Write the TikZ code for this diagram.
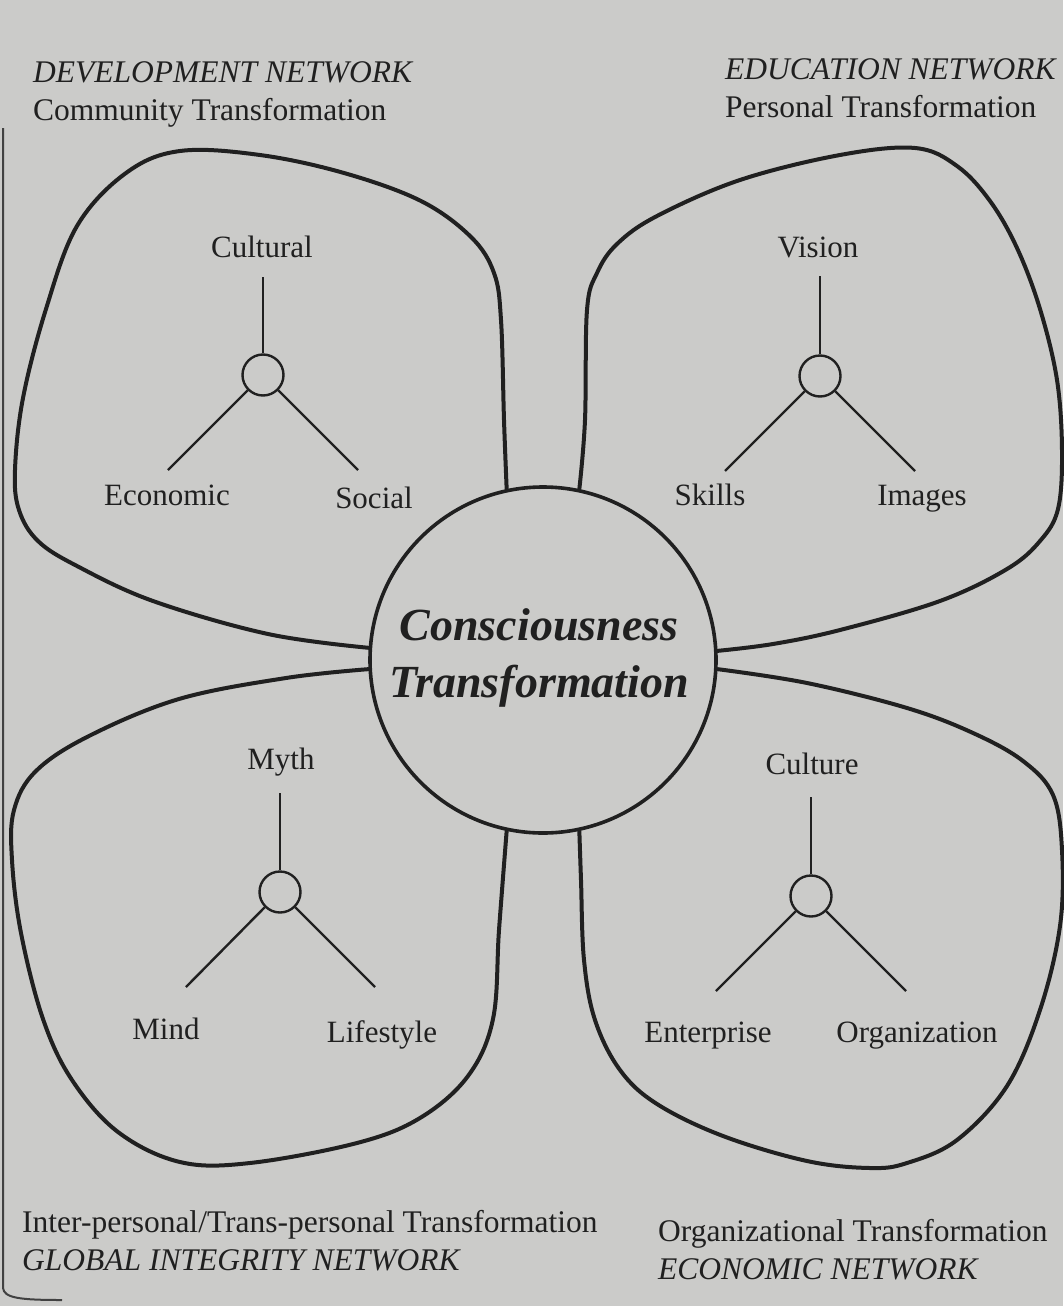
\documentclass[tikz,border=0pt]{standalone}
\usepackage{fontspec}
\setmainfont{Liberation Serif}
\definecolor{paper}{RGB}{203,203,201}
\definecolor{ink}{RGB}{32,32,32}
\tikzset{
  petal/.style={draw=ink, line width=4pt, line join=round, line cap=round},
  corering/.style={circle, draw=ink, line width=3.6pt, minimum size=346pt, inner sep=0pt},
  hub/.style={circle, draw=ink, line width=2.4pt, minimum size=41pt, inner sep=0pt},
  spoke/.style={draw=ink, line width=2.4pt},
  lbl/.style={font=\fontsize{31}{37}\selectfont, text=ink, inner sep=0pt, anchor=base},
  head/.style={font=\fontsize{31.5}{38}\selectfont, text=ink, inner sep=0pt, anchor=base west},
  headit/.style={head, font=\fontsize{31.5}{38}\selectfont\itshape},
  coretext/.style={font=\fontsize{46}{55}\selectfont\bfseries\itshape, text=ink, inner sep=0pt, anchor=base},
  scanedge/.style={draw=ink!85, line width=2pt}
}
\begin{document}
\begin{tikzpicture}[x=1pt,y=-1pt]
\useasboundingbox (0,0) rectangle (1063,1306);
\fill[paper] (0,0) rectangle (1063,1306);
\draw[scanedge] (3,128) -- (3,1288) .. controls (4,1298) and (20,1300) .. (62,1300);

% centre
\node[corering] (core) at (543,660) {};
\node[coretext] (ct1) at (539,640) {Consciousness};
\node[coretext] (ct2) at (539,697) {Transformation};

% petals
\draw[petal] plot[smooth, tension=0.6] coordinates {(core.176) (268,634) (153,601) (77,566) (38,541) (19,510) (15,470) (23,398) (46,309) (77,226) (126,173) (180,151) (260,155) (344,173) (421,201) (471,237) (494,273) (501,320) (504,420) (core.102)};
\draw[petal] plot[smooth, tension=0.6] coordinates {(core.78) (585,420) (587,310) (597,273) (617,244) (657,216) (740,180) (840,155) (915,148) (957,166) (990,201) (1017,248) (1040,309) (1057,380) (1062,451) (1058,509) (1040,541) (1007,569) (940,601) (840,630) (773,644) (core.3)};
\draw[petal] plot[smooth, tension=0.6] coordinates {(core.183) (286,678) (179,699) (89,736) (36,771) (14,810) (12,860) (21,933) (43,1019) (72,1080) (118,1132) (180,1162) (250,1163) (357,1143) (420,1118) (468,1076) (493,1019) (499,930) (core.258)};
\draw[petal] plot[smooth, tension=0.6] coordinates {(core.-3) (807,683) (907,708) (973,733) (1023,761) (1053,795) (1062,850) (1060,926) (1040,1010) (1007,1086) (957,1140) (907,1163) (870,1168) (807,1161) (723,1136) (657,1104) (620,1070) (595,1020) (584,960) (581,880) (core.282)};

% tripod: development
\node[hub] (h1) at (263,375) {};
\coordinate (t1) at (263,277);
\coordinate (l1) at (168,470);
\coordinate (r1) at (358,470);
\draw[spoke] (h1.north) -- (t1);
\draw[spoke] (h1.225) -- (l1);
\draw[spoke] (h1.315) -- (r1);
\node[lbl] (cultural) at (262,257) {Cultural};
\node[lbl] (economic) at (167,505) {Economic};
\node[lbl] (social) at (374,508) {Social};

% tripod: education
\node[hub] (h2) at (820,376) {};
\coordinate (t2) at (820,276);
\coordinate (l2) at (725,471);
\coordinate (r2) at (915,471);
\draw[spoke] (h2.north) -- (t2);
\draw[spoke] (h2.225) -- (l2);
\draw[spoke] (h2.315) -- (r2);
\node[lbl] (vision) at (818,257) {Vision};
\node[lbl] (skills) at (710,505) {Skills};
\node[lbl] (images) at (922,505) {Images};

% tripod: global integrity
\node[hub] (h3) at (280,892) {};
\coordinate (t3) at (280,793);
\coordinate (l3) at (186,987);
\coordinate (r3) at (375,987);
\draw[spoke] (h3.north) -- (t3);
\draw[spoke] (h3.225) -- (l3);
\draw[spoke] (h3.315) -- (r3);
\node[lbl] (myth) at (281,769) {Myth};
\node[lbl] (mind) at (166,1039) {Mind};
\node[lbl] (lifestyle) at (382,1042) {Lifestyle};

% tripod: economic
\node[hub] (h4) at (811,896) {};
\coordinate (t4) at (811,797);
\coordinate (l4) at (716,991);
\coordinate (r4) at (906,991);
\draw[spoke] (h4.north) -- (t4);
\draw[spoke] (h4.225) -- (l4);
\draw[spoke] (h4.315) -- (r4);
\node[lbl] (culture) at (812,774) {Culture};
\node[lbl] (enterprise) at (708,1042) {Enterprise};
\node[lbl] (organization) at (917,1042) {Organization};

% headings
\node[headit] (devnet) at (33,82) {DEVELOPMENT NETWORK};
\node[head] (devsub) at (33,120) {Community Transformation};
\node[headit] (edunet) at (725,80) {EDUCATION NETWORK};
\node[head] (edusub) at (725,117) {Personal Transformation};
\node[head] (glosub) at (22,1232) {Inter-personal/Trans-personal Transformation};
\node[headit] (glonet) at (22,1270) {GLOBAL INTEGRITY NETWORK};
\node[head] (ecosub) at (658,1241) {Organizational Transformation};
\node[headit] (econet) at (658,1279) {ECONOMIC NETWORK};
\end{tikzpicture}
\end{document}
